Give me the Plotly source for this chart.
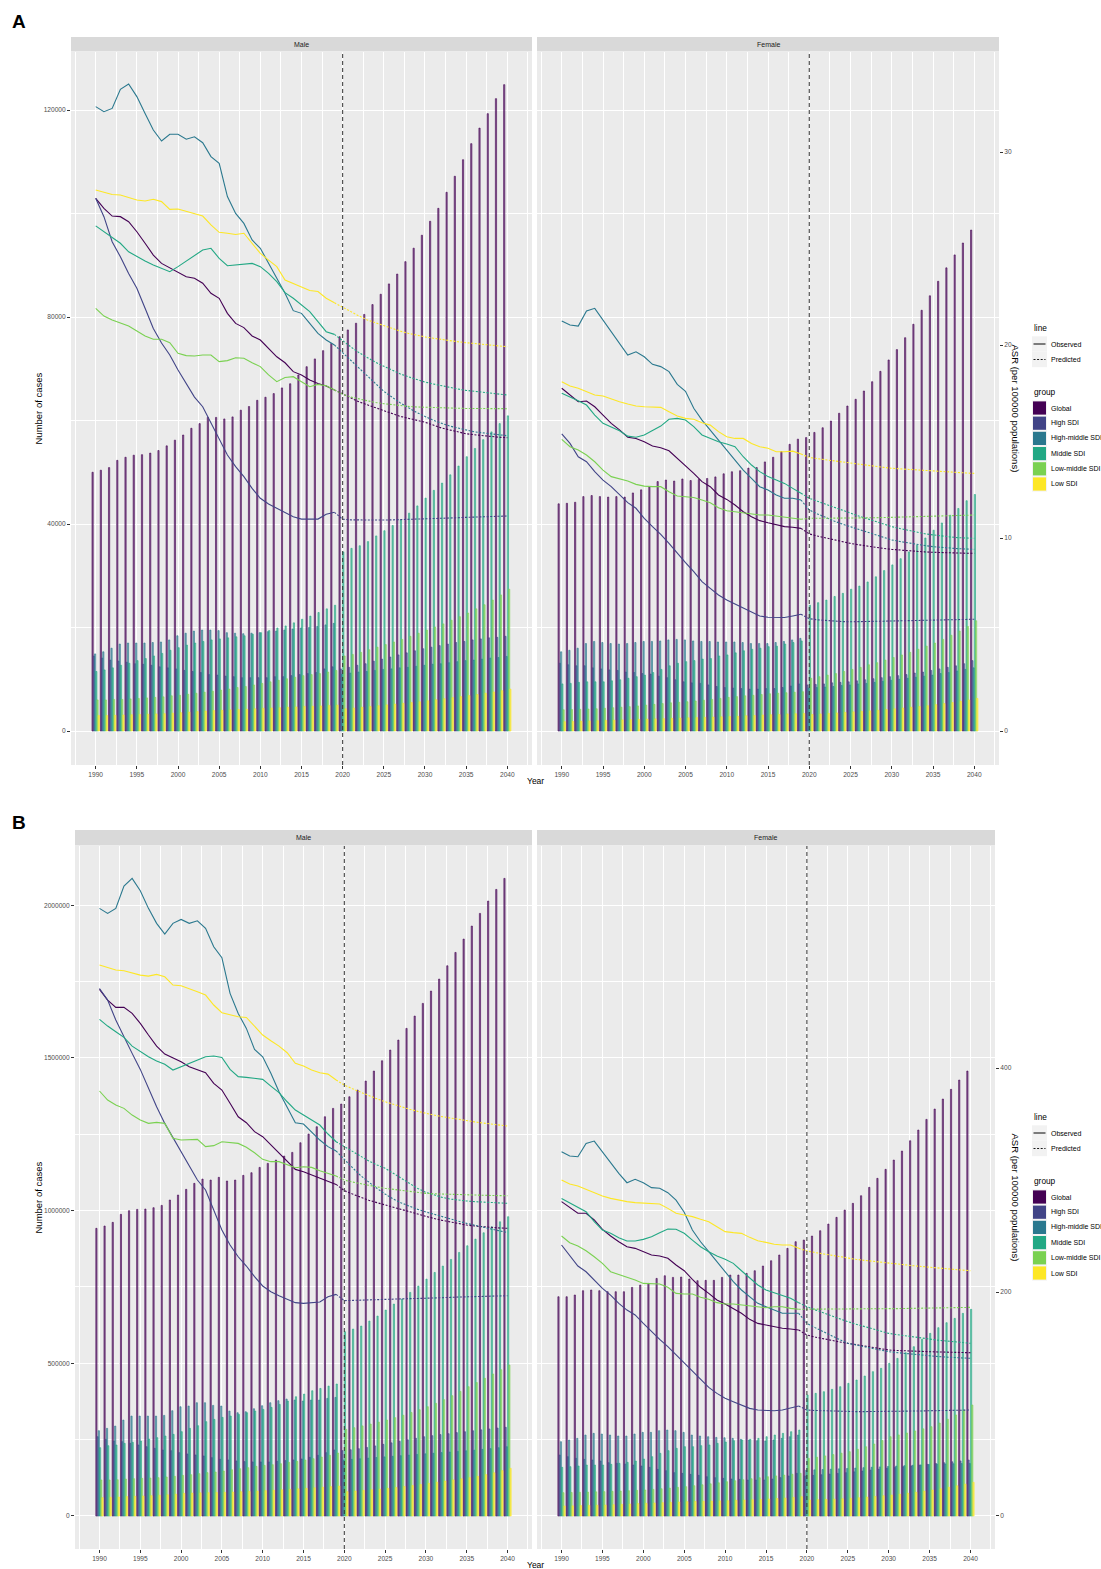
import plotly.graph_objects as go

W, H = 1101, 1569

# ---------------------------------------------------------------- data
years = list(range(1990, 2041))
SPLIT_YEAR = 2020          # first predicted year
x_tick_years = [1990, 1995, 2000, 2005, 2010, 2015, 2020, 2025, 2030, 2035, 2040]
groups = ["Global", "High SDI", "High-middle SDI", "Middle SDI", "Low-middle SDI", "Low SDI"]
group_colors = ["#440154", "#414487", "#2A788E", "#22A884", "#7AD151", "#FDE725"]
line_types = ["Observed", "Predicted"]
asr_ticks_a = [0, 10, 20, 30]
asr_ticks_b = [0, 200, 400]

# ---- A, Male: number of cases (1990-2040)
a_male_cases_global = [50000, 50400, 50900, 52300, 52900, 53300, 53400, 53700, 54200, 55100,
                       56200, 57200, 58500, 59400, 60600, 60600, 60300, 60700, 62000, 62700,
                       63900, 64500, 65200, 66300, 67100, 68800, 70400, 71900, 73500, 74900,
                       76200, 77500, 78800, 80500, 82400, 84400, 86400, 88300, 90700, 93300,
                       95800, 98500, 101000, 104100, 107200, 110400, 113500, 116500, 119300, 122200,
                       124900]
a_male_cases_high = [14500, 14100, 13700, 13500, 13300, 13000, 12900, 12700, 12400, 12200,
                     12000, 11700, 11500, 11300, 10900, 10800, 10600, 10500, 10300, 10300,
                     10300, 10300, 10500, 10500, 10700, 10900, 11100, 11300, 12000, 12400,
                     12000, 12300, 12700, 13000, 13500, 13900, 14300, 14700, 15100, 15500,
                     15900, 16200, 16500, 16800, 17100, 17300, 17600, 17800, 18000, 18100,
                     18300]
a_male_cases_highmid = [14900, 15300, 16000, 16800, 17000, 17000, 17000, 17100, 17200, 17600,
                        18400, 18900, 19300, 19500, 19500, 19400, 19000, 18900, 18800, 18900,
                        19000, 19200, 19300, 19500, 19700, 19900, 20000, 20200, 20500, 20800,
                        11000, 11200, 11400, 11500, 11700, 11900, 12000, 12200, 12300, 12500,
                        12700, 12900, 13000, 13200, 13400, 13600, 13700, 13900, 14100, 14200,
                        14400]
a_male_cases_mid = [11500, 11800, 12200, 12700, 13100, 13600, 14000, 14500, 15000, 15600,
                    16100, 16600, 17000, 17300, 17600, 17800, 18000, 18200, 18400, 18700,
                    19000, 19400, 19900, 20300, 20900, 21600, 22200, 22900, 23600, 24300,
                    34600, 35300, 35800, 36600, 37700, 38700, 39700, 40800, 42100, 43500,
                    45000, 46500, 47900, 49500, 51200, 53000, 54600, 56300, 57800, 59400,
                    60900]
a_male_cases_lowmid = [6000, 6000, 6100, 6100, 6200, 6300, 6400, 6500, 6600, 6800,
                       6900, 7100, 7300, 7500, 7700, 7900, 8100, 8400, 8600, 8900,
                       9200, 9500, 9800, 10100, 10400, 10700, 10900, 11100, 11400, 11700,
                       14500, 14800, 15200, 15700, 16200, 16700, 17200, 17700, 18300, 18900,
                       19500, 20100, 20700, 21400, 22100, 22800, 23600, 24400, 25300, 26300,
                       27400]
a_male_cases_low = [3000, 3000, 3050, 3100, 3150, 3200, 3250, 3300, 3350, 3450,
                    3550, 3650, 3750, 3850, 3950, 4000, 4100, 4150, 4200, 4300,
                    4400, 4450, 4500, 4600, 4650, 4750, 4800, 4850, 4950, 5000,
                    4300, 4450, 4600, 4750, 4900, 5050, 5200, 5350, 5500, 5650,
                    5850, 6050, 6250, 6450, 6650, 6850, 7050, 7300, 7550, 7800,
                    8100]

# ---- A, Male: ASR (observed 1990-2019, predicted 2020-2040)
a_male_asr_global = [27.6, 27.08, 26.68, 26.65, 26.39, 25.87, 25.27, 24.66, 24.23, 24.0,
                     23.8, 23.54, 23.46, 23.2, 22.68, 22.42, 21.64, 21.12, 20.9, 20.47,
                     20.26, 19.83, 19.39, 19.08, 18.62, 18.45, 18.19, 18.01, 17.88, 17.67,
                     17.45, 17.25, 17.05, 16.9, 16.75, 16.6, 16.45, 16.3, 16.2, 16.1,
                     16.0, 15.85, 15.7, 15.6, 15.5, 15.4, 15.35, 15.3, 15.25, 15.22,
                     15.2]
a_male_asr_high = [27.6, 26.65, 25.35, 24.57, 23.7, 22.94, 21.9, 20.86, 20.1, 19.48,
                   18.7, 18.0, 17.3, 16.8, 15.94, 15.08, 14.3, 13.7, 13.18, 12.57,
                   12.06, 11.76, 11.54, 11.36, 11.1, 10.98, 10.97, 10.98, 11.23, 11.33,
                   10.97, 10.94, 10.93, 10.93, 10.93, 10.93, 10.94, 10.95, 10.96, 10.98,
                   11.0, 11.01, 11.02, 11.04, 11.05, 11.07, 11.08, 11.1, 11.11, 11.13,
                   11.14]
a_male_asr_highmid = [32.35, 32.09, 32.26, 33.25, 33.52, 32.87, 32.0, 31.14, 30.57, 30.92,
                      30.92, 30.66, 30.79, 30.48, 29.76, 29.41, 27.69, 26.82, 26.3, 25.44,
                      25.01, 24.23, 23.46, 22.68, 21.78, 21.64, 21.12, 20.6, 20.26, 20.0,
                      19.6, 19.2, 18.8, 18.35, 17.95, 17.6, 17.3, 17.0, 16.75, 16.5,
                      16.3, 16.1, 15.95, 15.8, 15.7, 15.6, 15.5, 15.45, 15.4, 15.35,
                      15.3]
a_male_asr_mid = [26.17, 25.87, 25.58, 25.27, 24.83, 24.57, 24.35, 24.15, 23.97, 23.8,
                  24.06, 24.35, 24.66, 24.92, 25.01, 24.49, 24.11, 24.15, 24.17, 24.23,
                  24.06, 23.71, 23.28, 22.71, 22.42, 22.07, 21.73, 21.21, 20.69, 20.55,
                  20.2, 19.9, 19.6, 19.35, 19.1, 18.9, 18.7, 18.5, 18.35, 18.2,
                  18.08, 17.98, 17.88, 17.8, 17.72, 17.65, 17.6, 17.54, 17.49, 17.45,
                  17.41]
a_male_asr_lowmid = [21.9, 21.5, 21.3, 21.16, 20.98, 20.73, 20.47, 20.3, 20.3, 20.12,
                     19.57, 19.45, 19.43, 19.48, 19.48, 19.14, 19.19, 19.34, 19.31, 19.08,
                     18.88, 18.45, 18.1, 18.32, 18.36, 18.1, 17.84, 17.96, 17.89, 17.67,
                     17.45, 17.3, 17.2, 17.1, 17.02, 16.96, 16.9, 16.86, 16.82, 16.79,
                     16.77, 16.75, 16.74, 16.73, 16.72, 16.71, 16.71, 16.7, 16.7, 16.7,
                     16.7]
a_male_asr_low = [28.03, 27.91, 27.8, 27.77, 27.65, 27.51, 27.46, 27.55, 27.43, 27.03,
                  27.05, 26.93, 26.77, 26.68, 26.22, 25.84, 25.79, 25.73, 25.79, 25.27,
                  24.75, 24.4, 24.06, 23.37, 23.2, 22.99, 22.82, 22.77, 22.42, 22.19,
                  21.98, 21.73, 21.5, 21.3, 21.15, 21.0, 20.85, 20.72, 20.6, 20.5,
                  20.42, 20.35, 20.28, 20.22, 20.17, 20.12, 20.07, 20.03, 19.99, 19.95,
                  19.91]

# ---- A, Female: number of cases
a_female_cases_global = [43900, 44000, 44200, 45300, 45500, 45300, 45200, 45300, 45200, 46000,
                         46600, 47200, 48200, 48500, 48300, 48700, 48400, 48600, 48800, 49100,
                         49700, 50100, 50300, 50800, 50900, 52000, 52900, 54000, 55400, 56400,
                         56700, 57700, 58600, 59900, 61400, 62800, 64100, 65700, 67500, 69500,
                         71700, 73700, 76000, 78600, 81300, 84100, 86900, 89500, 92000, 94300,
                         96800]
a_female_cases_high = [13100, 12800, 12600, 12600, 12200, 12000, 11800, 11700, 11400, 11300,
                       11100, 11000, 10600, 10300, 9900, 9500, 9300, 9200, 8900, 8600,
                       8400, 8300, 8200, 8100, 8100, 8200, 8200, 8400, 8700, 9100,
                       8900, 9000, 9100, 9300, 9400, 9500, 9700, 9900, 10100, 10300,
                       10500, 10700, 10900, 11200, 11400, 11700, 12000, 12300, 12600, 13000,
                       13600]
a_female_cases_highmid = [15300, 15600, 16000, 16900, 17300, 17100, 16900, 16800, 16900, 17100,
                          17300, 17300, 17400, 17600, 17700, 17600, 17400, 17300, 17300, 17200,
                          17200, 17200, 17100, 16900, 16900, 16900, 17100, 17300, 17600, 17900,
                          8300, 8400, 8500, 8600, 8800, 8900, 9100, 9200, 9400, 9600,
                          9800, 10000, 10200, 10400, 10600, 10800, 11100, 11300, 11600, 11900,
                          12200]
a_female_cases_mid = [9100, 9200, 9400, 9500, 9500, 9500, 9700, 9900, 10200, 10500,
                      10800, 11300, 11900, 12600, 13100, 13400, 13600, 13900, 14000, 14500,
                      14700, 15100, 15500, 15800, 16000, 16300, 16400, 16800, 17100, 17400,
                      24300, 24800, 25300, 26000, 26600, 27400, 28000, 28800, 29800, 31000,
                      32100, 33300, 34600, 35900, 37300, 38800, 40200, 41700, 43000, 44500,
                      45700]
a_female_cases_lowmid = [4100, 4150, 4200, 4250, 4300, 4400, 4500, 4600, 4700, 4850,
                         5000, 5150, 5300, 5450, 5550, 5650, 5800, 5950, 6100, 6300,
                         6500, 6650, 6800, 6900, 7050, 7200, 7300, 7400, 7500, 7600,
                         10200, 10500, 10800, 11100, 11500, 11900, 12300, 12800, 13200, 13700,
                         14200, 14700, 15200, 15800, 16400, 17000, 17700, 18500, 19300, 20200,
                         21300]
a_female_cases_low = [1800, 1850, 1900, 1950, 2000, 2050, 2100, 2150, 2200, 2250,
                      2300, 2350, 2400, 2450, 2500, 2550, 2600, 2650, 2700, 2750,
                      2800, 2850, 2950, 3000, 3100, 3150, 3200, 3300, 3350, 3400,
                      3200, 3300, 3400, 3500, 3600, 3700, 3800, 3900, 4000, 4150,
                      4300, 4450, 4600, 4750, 4900, 5100, 5300, 5500, 5750, 6000,
                      6300]

# ---- A, Female: ASR
a_female_asr_global = [17.76, 17.41, 17.06, 17.1, 16.8, 16.37, 15.94, 15.6, 15.22, 15.16,
                       14.99, 14.77, 14.68, 14.52, 14.13, 13.78, 13.35, 12.92, 12.66, 12.23,
                       12.0, 11.71, 11.36, 11.1, 10.9, 10.79, 10.67, 10.59, 10.56, 10.5,
                       10.21, 10.1, 10.0, 9.9, 9.8, 9.72, 9.65, 9.58, 9.52, 9.46,
                       9.41, 9.37, 9.34, 9.31, 9.28, 9.26, 9.24, 9.23, 9.22, 9.21,
                       9.21]
a_female_asr_high = [15.39, 14.9, 14.21, 13.95, 13.44, 13.0, 12.66, 12.23, 11.83, 11.54,
                     11.02, 10.59, 10.19, 9.72, 9.21, 8.72, 8.26, 7.74, 7.39, 7.05,
                     6.79, 6.58, 6.35, 6.15, 5.96, 5.89, 5.88, 5.88, 5.96, 6.05,
                     5.82, 5.76, 5.72, 5.69, 5.67, 5.66, 5.66, 5.67, 5.68, 5.69,
                     5.7, 5.71, 5.72, 5.73, 5.74, 5.75, 5.76, 5.77, 5.78, 5.78,
                     5.79]
a_female_asr_highmid = [21.24, 21.04, 20.98, 21.76, 21.9, 21.3, 20.69, 20.09, 19.48, 19.65,
                        19.39, 19.0, 18.88, 18.62, 17.96, 17.6, 16.72, 16.11, 15.6, 15.08,
                        14.56, 14.04, 13.52, 13.09, 12.66, 12.49, 12.23, 12.06, 12.06, 11.97,
                        11.45, 11.25, 11.05, 10.88, 10.72, 10.59, 10.45, 10.32, 10.2, 10.05,
                        9.9, 9.82, 9.74, 9.67, 9.61, 9.55, 9.51, 9.48, 9.45, 9.43,
                        9.41]
a_female_asr_mid = [17.5, 17.32, 17.11, 16.89, 16.37, 15.94, 15.77, 15.56, 15.28, 15.22,
                    15.34, 15.56, 15.8, 16.15, 16.2, 16.11, 15.77, 15.34, 15.16, 14.99,
                    14.87, 14.73, 14.21, 13.78, 13.44, 13.18, 13.0, 12.83, 12.57, 12.32,
                    12.06, 11.9, 11.74, 11.58, 11.43, 11.28, 11.14, 11.0, 10.86, 10.72,
                    10.59, 10.49, 10.39, 10.3, 10.22, 10.16, 10.1, 10.06, 10.02, 10.0,
                    9.98]
a_female_asr_lowmid = [15.11, 14.73, 14.56, 14.3, 13.95, 13.52, 13.18, 13.06, 12.95, 12.78,
                       12.69, 12.66, 12.66, 12.4, 12.18, 12.14, 12.1, 11.97, 11.83, 11.57,
                       11.41, 11.36, 11.31, 11.24, 11.19, 11.19, 11.14, 11.1, 11.02, 10.97,
                       11.02, 11.02, 11.02, 11.02, 11.02, 11.02, 11.03, 11.04, 11.05, 11.06,
                       11.07, 11.08, 11.09, 11.1, 11.12, 11.14, 11.15, 11.16, 11.17, 11.18,
                       11.19]
a_female_asr_low = [18.1, 17.88, 17.76, 17.58, 17.41, 17.36, 17.2, 17.06, 16.94, 16.84,
                    16.8, 16.8, 16.77, 16.54, 16.32, 16.2, 16.15, 15.97, 15.85, 15.51,
                    15.25, 15.16, 15.16, 14.9, 14.73, 14.65, 14.47, 14.47, 14.5, 14.35,
                    14.18, 14.11, 14.05, 13.99, 13.93, 13.87, 13.82, 13.76, 13.71, 13.66,
                    13.61, 13.58, 13.55, 13.52, 13.5, 13.47, 13.45, 13.42, 13.4, 13.37,
                    13.35]

# ---- B, Male: number of cases
b_male_cases_global = [941900, 949500, 961500, 987700, 999700, 1004000, 1005100, 1009500, 1017100, 1034600,
                       1051000, 1069600, 1089200, 1103300, 1100000, 1108900, 1096900, 1100000, 1115400, 1124100,
                       1141500, 1154600, 1165500, 1178600, 1190600, 1222200, 1250700, 1274700, 1307400, 1334700,
                       1348900, 1372800, 1394700, 1424200, 1456900, 1490700, 1525700, 1558400, 1596700, 1637000,
                       1678500, 1718900, 1758100, 1801700, 1845400, 1889100, 1931700, 1973200, 2013500, 2051700,
                       2087800]
b_male_cases_high = [259600, 251000, 245500, 243400, 237900, 232500, 227000, 221600, 216100, 213900,
                     207400, 203000, 199800, 196500, 191100, 185600, 183400, 180200, 178000, 177000,
                     177000, 177000, 179100, 181300, 183400, 186700, 192200, 198700, 207400, 216100,
                     213900, 217000, 220500, 224500, 229500, 234600, 239500, 244500, 249500, 254500,
                     259600, 263000, 266500, 269500, 273000, 276000, 279000, 282000, 285000, 288000,
                     290400]
b_male_cases_highmid = [279300, 286900, 294500, 314100, 327200, 327200, 327200, 327200, 329400, 344700,
                        357800, 360000, 370900, 370900, 362200, 360000, 343600, 338100, 341400, 351200,
                        361100, 370900, 377500, 382900, 379600, 376300, 379600, 379600, 385100, 388400,
                        183400, 185500, 187500, 189500, 191500, 193500, 195500, 197500, 199500, 201500,
                        203500, 205500, 207500, 209500, 211500, 213500, 215500, 218000, 220500, 223500,
                        226900]
b_male_cases_mid = [223700, 230200, 232400, 237900, 241200, 245500, 252100, 256500, 261900, 267400,
                    276100, 287000, 295700, 308800, 316400, 322900, 327300, 332700, 338200, 343600,
                    349100, 355600, 365400, 376300, 390500, 399200, 410100, 417700, 425400, 432200,
                    603400, 612100, 621900, 638300, 654600, 674300, 693900, 710300, 732100, 752800,
                    775700, 797500, 818300, 840100, 863000, 884800, 906600, 927400, 947000, 963400,
                    980000]
b_male_cases_lowmid = [117900, 117900, 118600, 121100, 122200, 123300, 124400, 125500, 127700, 129900,
                       133100, 135300, 138600, 141900, 144000, 147300, 151600, 154900, 158200, 162600,
                       165900, 168100, 171300, 175700, 178900, 183200, 187600, 193100, 198600, 206200,
                       283800, 289000, 295000, 301000, 307500, 314300, 322000, 330000, 339000, 348000,
                       357900, 369000, 381000, 394000, 408000, 423400, 437000, 451000, 465000, 479000,
                       494400]
b_male_cases_low = [60000, 61000, 62000, 63500, 64500, 65500, 66500, 68000, 69500, 71500,
                    74200, 75000, 75800, 76500, 77000, 77500, 78500, 79500, 80500, 81500,
                    83000, 84500, 86000, 87500, 89000, 90600, 92500, 94300, 96200, 98200,
                    79700, 81800, 84000, 86200, 88400, 90600, 93500, 96500, 99800, 103300,
                    107000, 110800, 114500, 118300, 121900, 125500, 130000, 135500, 141500, 148500,
                    156100]

# ---- B, Male: ASR
b_male_asr_global = [470.2, 460.7, 454.2, 454.2, 448.8, 439.9, 429.5, 419.6, 412.5, 409.2,
                     405.6, 401.2, 398.8, 395.8, 386.3, 380.4, 368.5, 356.5, 351.2, 343.2,
                     338.7, 331.3, 323.8, 317.3, 309.5, 307.4, 304.5, 301.5, 299.1, 296.1,
                     290.5, 287.5, 284.5, 282.0, 279.8, 277.7, 275.5, 273.5, 271.3, 269.2,
                     267.3, 265.6, 264.0, 262.5, 261.1, 259.8, 258.9, 258.2, 257.6, 257.2,
                     256.9]
b_male_asr_high = [471.0, 460.7, 442.9, 427.4, 413.1, 398.8, 381.9, 365.5, 350.6, 338.1,
                   325.3, 313.4, 300.0, 291.1, 273.2, 255.4, 242.0, 231.5, 223.2, 213.7,
                   205.4, 200.3, 196.7, 193.5, 190.5, 189.9, 190.5, 191.1, 195.8, 197.9,
                   192.3, 192.5, 192.8, 193.1, 193.3, 193.5, 193.7, 193.9, 194.1, 194.2,
                   194.3, 194.6, 194.9, 195.2, 195.5, 195.8, 196.0, 196.2, 196.4, 196.6,
                   196.7]
b_male_asr_highmid = [542.6, 538.1, 542.6, 562.5, 569.3, 558.3, 542.6, 529.2, 519.6, 529.2,
                      532.7, 529.2, 531.5, 524.7, 508.3, 498.5, 466.7, 448.8, 435.4, 416.7,
                      410.1, 395.3, 378.9, 365.5, 351.2, 350.0, 343.1, 335.7, 329.8, 325.9,
                      318.0, 311.0, 304.0, 298.0, 292.5, 287.5, 283.0, 279.5, 276.5, 273.8,
                      271.5, 269.3, 267.2, 265.2, 263.2, 261.3, 259.5, 257.8, 256.2, 254.6,
                      253.2]
b_male_asr_mid = [443.5, 437.5, 432.4, 427.4, 419.6, 414.6, 410.1, 406.3, 403.3, 398.2,
                  401.2, 404.2, 407.7, 410.1, 410.7, 409.5, 398.8, 392.3, 391.7, 390.8,
                  389.9, 383.9, 378.0, 369.9, 362.5, 358.0, 353.6, 349.1, 341.1, 334.2,
                  329.8, 325.5, 321.0, 317.0, 313.5, 310.5, 306.0, 301.5, 297.0, 292.5,
                  289.0, 286.5, 284.5, 283.0, 282.0, 281.3, 280.7, 280.2, 279.8, 279.5,
                  279.2]
b_male_asr_lowmid = [379.5, 371.4, 367.0, 364.0, 358.0, 353.6, 350.6, 351.5, 350.6, 337.2,
                     335.7, 335.7, 336.3, 329.8, 330.7, 334.2, 333.6, 332.7, 329.2, 324.4,
                     318.5, 316.4, 316.4, 313.4, 311.0, 311.9, 311.3, 308.3, 306.0, 303.6,
                     300.0, 298.2, 296.6, 295.2, 293.9, 292.6, 291.6, 290.7, 289.9, 289.0,
                     288.1, 287.7, 287.4, 287.1, 286.8, 286.6, 286.4, 286.3, 286.2, 286.1,
                     286.0]
b_male_asr_low = [492.0, 489.6, 487.5, 486.9, 485.1, 483.0, 482.1, 483.6, 481.5, 474.1,
                  473.5, 471.1, 468.1, 465.2, 456.3, 449.4, 447.3, 445.8, 445.2, 436.9,
                  429.5, 424.4, 419.6, 413.7, 404.2, 401.8, 398.2, 395.8, 394.6, 389.3,
                  384.8, 381.5, 378.3, 375.3, 372.5, 369.9, 367.5, 365.3, 363.2, 361.3,
                  359.5, 358.0, 356.6, 355.3, 354.1, 353.0, 351.9, 350.9, 349.9, 349.0,
                  348.2]

# ---- B, Female: number of cases
b_female_cases_global = [718000, 718000, 723600, 737700, 739900, 737700, 734400, 734400, 734400, 748600,
                         756100, 761600, 778000, 786700, 781300, 782400, 776000, 770500, 771600, 771600,
                         781300, 789000, 789000, 794400, 803100, 818500, 835900, 854500, 876400, 898200,
                         903600, 916700, 934100, 956000, 977900, 1001800, 1023700, 1048700, 1076100, 1105600,
                         1135100, 1165500, 1195000, 1228700, 1263800, 1298700, 1332500, 1365300, 1397100, 1427500,
                         1456900]
b_female_cases_high = [199700, 194300, 188800, 185500, 183300, 180000, 174600, 172400, 170200, 166900,
                       163700, 159300, 152700, 148400, 141800, 139600, 136300, 133100, 128700, 125500,
                       123300, 121100, 120000, 117800, 117800, 117800, 121100, 125500, 131000, 139600,
                       131000, 133000, 135000, 137200, 139500, 141800, 144500, 147300, 150200, 153100,
                       156000, 158600, 161200, 163800, 166400, 169100, 171800, 174500, 177300, 180200,
                       183300]
b_female_cases_highmid = [243300, 248800, 254200, 265100, 270600, 268400, 265100, 261900, 261900, 268400,
                          273800, 273800, 279300, 281500, 279300, 273800, 265100, 261900, 259600, 257400,
                          256300, 254200, 250900, 248800, 246600, 245500, 248800, 254200, 259600, 265100,
                          150000, 151000, 152000, 153200, 154400, 155600, 156900, 158200, 159500, 160800,
                          162100, 163400, 164700, 166000, 167300, 168500, 169500, 170300, 171000, 171600,
                          172000]
b_female_cases_mid = [159300, 161500, 163700, 166900, 166900, 166900, 169100, 172400, 175700, 180000,
                      186600, 194300, 205200, 213900, 221600, 227000, 227000, 230300, 232500, 237900,
                      242300, 246700, 248800, 251000, 254200, 259600, 265100, 270600, 276000, 281500,
                      396200, 401600, 407000, 414700, 423400, 434400, 445300, 458400, 472600, 483500,
                      499800, 516200, 534700, 554400, 578400, 598000, 616600, 632900, 647100, 663500,
                      676700]
b_female_cases_lowmid = [76400, 77000, 77700, 78300, 79000, 79700, 80700, 81700, 82800, 83900,
                         85100, 87100, 89200, 91400, 93700, 96000, 99100, 102200, 105400, 108800,
                         112300, 115500, 118700, 122000, 125300, 128700, 131300, 133900, 136700, 139600,
                         188800, 192700, 196800, 201000, 205700, 210600, 218500, 226800, 235700, 247000,
                         259600, 265500, 271800, 278500, 285300, 292400, 304500, 317000, 330900, 346600,
                         363400]
b_female_cases_low = [32700, 33300, 34000, 34700, 35300, 36000, 37100, 38300, 39400, 40500,
                      41500, 42600, 43700, 44800, 45800, 46900, 47500, 48200, 48900, 49500,
                      50200, 51300, 52400, 53500, 54600, 55700, 57200, 58800, 60900, 63300,
                      52400, 53400, 54500, 55500, 56600, 57800, 59800, 61900, 64100, 66400,
                      68700, 71600, 74600, 77700, 81300, 85100, 89500, 94100, 98900, 104300,
                      110300]

# ---- B, Female: ASR
b_female_asr_global = [280.7, 275.6, 270.3, 270.3, 264.3, 256.0, 250.0, 244.9, 240.4, 239.0,
                       236.0, 233.0, 232.1, 230.1, 224.1, 219.0, 211.3, 204.2, 198.8, 192.9,
                       189.3, 185.4, 181.0, 175.6, 172.0, 170.5, 169.0, 167.6, 167.0, 166.1,
                       161.6, 159.8, 158.2, 156.8, 155.4, 154.2, 153.0, 151.8, 150.6, 149.4,
                       148.2, 147.8, 147.4, 147.1, 146.9, 146.7, 146.5, 146.3, 146.1, 145.9,
                       145.8]
b_female_asr_high = [242.0, 233.0, 223.2, 218.1, 210.7, 203.3, 197.3, 189.9, 183.9, 179.5,
                     172.0, 164.6, 157.7, 151.2, 143.8, 136.3, 128.8, 121.4, 114.9, 109.5,
                     105.1, 102.1, 99.1, 96.1, 94.6, 94.0, 94.0, 94.6, 96.1, 98.2,
                     94.6, 94.2, 93.9, 93.6, 93.4, 93.2, 93.2, 93.2, 93.2, 93.2,
                     93.2, 93.3, 93.4, 93.6, 93.8, 94.0, 94.1, 94.2, 94.3, 94.5,
                     94.6]
b_female_asr_highmid = [325.3, 321.4, 320.8, 332.7, 334.8, 325.3, 314.9, 306.0, 297.6, 300.6,
                        297.6, 293.2, 292.6, 288.7, 282.1, 271.3, 255.4, 244.9, 236.0, 227.0,
                        218.1, 209.2, 201.8, 195.8, 189.9, 186.9, 183.9, 181.0, 181.0, 181.0,
                        172.0, 168.2, 164.5, 161.0, 157.5, 154.2, 152.6, 151.1, 149.6, 148.1,
                        146.7, 145.9, 145.1, 144.3, 143.6, 142.9, 142.4, 141.9, 141.5, 141.1,
                        140.8]
b_female_asr_mid = [283.6, 279.8, 276.2, 271.7, 262.8, 255.4, 252.4, 248.5, 245.5, 245.5,
                    247.0, 249.4, 253.0, 256.3, 256.0, 252.4, 246.4, 240.4, 236.0, 232.1,
                    229.2, 225.6, 219.0, 212.2, 206.3, 201.8, 199.4, 197.3, 194.4, 190.5,
                    186.9, 184.1, 181.4, 178.7, 176.1, 173.5, 171.3, 169.2, 167.1, 165.1,
                    163.1, 162.0, 160.9, 159.8, 158.7, 157.7, 157.0, 156.3, 155.6, 154.9,
                    154.2]
b_female_asr_lowmid = [250.0, 244.0, 241.1, 236.9, 231.5, 225.6, 218.1, 215.8, 213.7, 210.7,
                       207.7, 207.1, 207.1, 204.2, 198.8, 198.2, 198.2, 195.3, 193.5, 190.5,
                       189.3, 189.3, 188.4, 187.5, 186.3, 186.0, 186.9, 186.9, 185.4, 184.6,
                       184.6, 184.6, 184.6, 184.6, 184.6, 184.6, 184.7, 184.8, 184.9, 185.0,
                       185.1, 185.2, 185.3, 185.4, 185.5, 185.6, 185.7, 185.9, 186.0, 186.2,
                       186.3]
b_female_asr_low = [300.0, 296.4, 294.6, 291.7, 288.7, 285.7, 283.6, 282.1, 280.7, 279.8,
                    279.2, 279.2, 278.6, 274.7, 270.3, 268.8, 267.3, 264.9, 262.8, 258.3,
                    253.9, 253.0, 252.4, 248.8, 245.8, 244.3, 242.6, 242.0, 242.0, 239.0,
                    236.6, 235.3, 234.0, 232.7, 231.4, 230.1, 229.2, 228.3, 227.4, 226.5,
                    225.6, 224.9, 224.2, 223.5, 222.8, 222.0, 221.4, 220.8, 220.2, 219.6,
                    219.0]

# ---------------------------------------------------------------- layout helpers
FONT = "Liberation Sans, Arial, Helvetica, sans-serif"
PANEL_BG = "#EBEBEB"
STRIP_BG = "#D9D9D9"
TICK_COL = "#4D4D4D"
DOTTED = "2px,1.6px"


def px_x(p):
    return p / W


def px_y(p):
    return 1 - p / H


def rgba(hex_col, a):
    h = hex_col.lstrip("#")
    r, g, b = int(h[0:2], 16), int(h[2:4], 16), int(h[4:6], 16)
    return f"rgba({r},{g},{b},{a})"


def label(text, x, y, size, color="black", angle=0, xanchor="center"):
    return dict(text=text, xref="paper", yref="paper", x=px_x(x), y=px_y(y),
                xanchor=xanchor, yanchor="middle", textangle=angle, showarrow=False,
                font=dict(family=FONT, size=size, color=color))


# cases axis ranges and the factor linking cases to ASR on the secondary axis
range_a = [-6570, 131210]
range_b = [-108100, 2193900]
k_a = 3729.5
k_b = 3667.0

facets = [
    dict(strip="Male", x=(71, 532), y=(52, 765), strip_y=(37, 51.5), xa="x", ya="y", ya2="y5",
         rng=range_a, k=k_a, major=40000, minor=20000, left=True, right=False, ticks2=asr_ticks_a,
         cases=[a_male_cases_global, a_male_cases_high, a_male_cases_highmid,
                a_male_cases_mid, a_male_cases_lowmid, a_male_cases_low],
         asr=[a_male_asr_global, a_male_asr_high, a_male_asr_highmid,
              a_male_asr_mid, a_male_asr_lowmid, a_male_asr_low]),
    dict(strip="Female", x=(537, 999), y=(52, 765), strip_y=(37, 51.5), xa="x2", ya="y2", ya2="y6",
         rng=range_a, k=k_a, major=40000, minor=20000, left=False, right=True, ticks2=asr_ticks_a,
         cases=[a_female_cases_global, a_female_cases_high, a_female_cases_highmid,
                a_female_cases_mid, a_female_cases_lowmid, a_female_cases_low],
         asr=[a_female_asr_global, a_female_asr_high, a_female_asr_highmid,
              a_female_asr_mid, a_female_asr_lowmid, a_female_asr_low]),
    dict(strip="Male", x=(75, 532), y=(846, 1549), strip_y=(830, 845.5), xa="x3", ya="y3", ya2="y7",
         rng=range_b, k=k_b, major=500000, minor=250000, left=True, right=False, ticks2=asr_ticks_b,
         cases=[b_male_cases_global, b_male_cases_high, b_male_cases_highmid,
                b_male_cases_mid, b_male_cases_lowmid, b_male_cases_low],
         asr=[b_male_asr_global, b_male_asr_high, b_male_asr_highmid,
              b_male_asr_mid, b_male_asr_lowmid, b_male_asr_low]),
    dict(strip="Female", x=(537, 995), y=(846, 1549), strip_y=(830, 845.5), xa="x4", ya="y4", ya2="y8",
         rng=range_b, k=k_b, major=500000, minor=250000, left=False, right=True, ticks2=asr_ticks_b,
         cases=[b_female_cases_global, b_female_cases_high, b_female_cases_highmid,
                b_female_cases_mid, b_female_cases_lowmid, b_female_cases_low],
         asr=[b_female_asr_global, b_female_asr_high, b_female_asr_highmid,
              b_female_asr_mid, b_female_asr_lowmid, b_female_asr_low]),
]

fig = go.Figure()
shapes = []
annotations = []

n_obs = sum(1 for yr in years if yr < SPLIT_YEAR)
obs_years = years[:n_obs]
pred_years = years[n_obs:]


def axis_key(ref):
    # "x" -> "xaxis", "x2" -> "xaxis2"
    return ref[0] + "axis" + ref[1:]


tick_style = dict(ticklen=3, tickwidth=1, tickcolor="#333333", color=TICK_COL,
                  tickfont=dict(family=FONT, size=6.6, color=TICK_COL))

layout_axes = {}
for f in facets:
    # bars: number of cases, dodged by group
    for name, col, vals in zip(groups, group_colors, f["cases"]):
        fig.add_trace(go.Bar(
            x=years, y=vals, name=name, showlegend=False,
            marker=dict(color=rgba(col, 0.6), line=dict(color=col, width=0.6)),
            xaxis=f["xa"], yaxis=f["ya"],
        ))
    # lines: ASR on the secondary scale
    for name, col, vals in zip(groups, group_colors, f["asr"]):
        fig.add_trace(go.Scatter(
            x=obs_years, y=vals[:n_obs], mode="lines", showlegend=False,
            line=dict(color=col, width=1.1), xaxis=f["xa"], yaxis=f["ya2"],
        ))
        fig.add_trace(go.Scatter(
            x=[obs_years[-1]] + pred_years, y=[vals[n_obs - 1]] + vals[n_obs:],
            mode="lines", showlegend=False,
            line=dict(color=col, width=1.1, dash=DOTTED), xaxis=f["xa"], yaxis=f["ya2"],
        ))

    x0, x1 = f["x"]
    yt, yb = f["y"]
    xdom = [px_x(x0), px_x(x1)]
    ydom = [px_y(yb), px_y(yt)]

    layout_axes[axis_key(f["xa"])] = dict(
        domain=xdom, anchor=f["ya"], range=[1987.0, 2043.0],
        tickmode="array", tickvals=x_tick_years, ticktext=[str(v) for v in x_tick_years],
        ticks="outside", **tick_style,
        showgrid=True, gridcolor="white", gridwidth=1.1,
        minor=dict(tickmode="array", tickvals=[v + 2.5 for v in [1985] + x_tick_years],
                   showgrid=True, gridcolor="white", gridwidth=0.5, ticks=""),
        zeroline=False, showline=False, fixedrange=True,
    )
    lo, hi = f["rng"]
    major_vals = [v for v in range(0, int(hi) + 1, f["major"])]
    minor_vals = [v for v in range(0, int(hi) + 1, f["minor"])]
    layout_axes[axis_key(f["ya"])] = dict(
        domain=ydom, anchor=f["xa"], range=[lo, hi],
        tickmode="array", tickvals=major_vals, ticktext=[str(v) for v in major_vals],
        ticks="outside" if f["left"] else "", **tick_style,
        showticklabels=f["left"],
        showgrid=True, gridcolor="white", gridwidth=1.1,
        minor=dict(tickmode="array", tickvals=minor_vals, showgrid=True,
                   gridcolor="white", gridwidth=0.5, ticks=""),
        zeroline=False, showline=False, fixedrange=True,
    )
    layout_axes[axis_key(f["ya2"])] = dict(
        overlaying=f["ya"], anchor=f["xa"], side="right",
        range=[lo / f["k"], hi / f["k"]],
        visible=f["right"],
        tickmode="array", tickvals=f["ticks2"], ticktext=[str(v) for v in f["ticks2"]],
        ticks="outside", **tick_style,
        showgrid=False, zeroline=False, showline=False, fixedrange=True,
    )

    # facet strip
    sy0, sy1 = f["strip_y"]
    shapes.append(dict(type="rect", xref="paper", yref="paper",
                       x0=px_x(x0), x1=px_x(x1), y0=px_y(sy1), y1=px_y(sy0),
                       fillcolor=STRIP_BG, line=dict(width=0), layer="below"))
    annotations.append(label(f["strip"], (x0 + x1) / 2, (sy0 + sy1) / 2, 7, "#1A1A1A"))
    # boundary between observed and predicted years
    shapes.append(dict(type="line", xref=f["xa"], yref=f["ya"] + " domain",
                       x0=SPLIT_YEAR, x1=SPLIT_YEAR, y0=0, y1=1,
                       line=dict(color="#333333", width=1, dash="4px,3px"), layer="above"))

# ---------------------------------------------------------------- panel texts
for tag, top, bottom, ytag in [("A", 52, 765, 22), ("B", 846, 1549, 822)]:
    mid = (top + bottom) / 2
    annotations.append(label(f"<b>{tag}</b>", 19, ytag, 19))
    annotations.append(label("Number of cases", 38, mid, 9.5, angle=-90))
    annotations.append(label("ASR (per 100000 populations)", 1015, mid, 9.5, angle=90))
    annotations.append(label("Year", 535, bottom + 16, 8.5))


# ---------------------------------------------------------------- legends
def add_legend(y0):
    lx = 1032
    annotations.append(label("line", lx, y0, 8.3, xanchor="left"))
    for i, lt in enumerate(line_types):
        cy = y0 + 16 + 15.5 * i
        shapes.append(dict(type="rect", xref="paper", yref="paper",
                           x0=px_x(lx), x1=px_x(lx + 15), y0=px_y(cy + 7.7), y1=px_y(cy - 7.7),
                           fillcolor="#F2F2F2", line=dict(width=0)))
        shapes.append(dict(type="line", xref="paper", yref="paper",
                           x0=px_x(lx + 1.5), x1=px_x(lx + 13.5), y0=px_y(cy), y1=px_y(cy),
                           line=dict(color="#1A1A1A", width=1.1,
                                     dash="solid" if lt == "Observed" else DOTTED)))
        annotations.append(label(lt, lx + 17, cy, 7, xanchor="left"))
    gy = y0 + 64
    annotations.append(label("group", lx, gy, 8.3, xanchor="left"))
    for i, (name, col) in enumerate(zip(groups, group_colors)):
        cy = gy + 16 + 15.2 * i
        shapes.append(dict(type="rect", xref="paper", yref="paper",
                           x0=px_x(lx), x1=px_x(lx + 15), y0=px_y(cy + 7.6), y1=px_y(cy - 7.6),
                           fillcolor="#F2F2F2", line=dict(width=0)))
        shapes.append(dict(type="rect", xref="paper", yref="paper",
                           x0=px_x(lx + 1), x1=px_x(lx + 14), y0=px_y(cy + 6.6), y1=px_y(cy - 6.6),
                           fillcolor=col, line=dict(width=0)))
        annotations.append(label(name, lx + 17, cy, 7, xanchor="left"))


add_legend(328)
add_legend(1117)

fig.update_layout(
    template="none",
    width=W, height=H, autosize=False,
    margin=dict(l=0, r=0, t=0, b=0),
    paper_bgcolor="white", plot_bgcolor=PANEL_BG,
    barmode="group", bargap=0.1, bargroupgap=0,
    showlegend=False, shapes=shapes, annotations=annotations,
    font=dict(family=FONT, color="black"),
    **layout_axes,
)

fig.write_html("out.html")
